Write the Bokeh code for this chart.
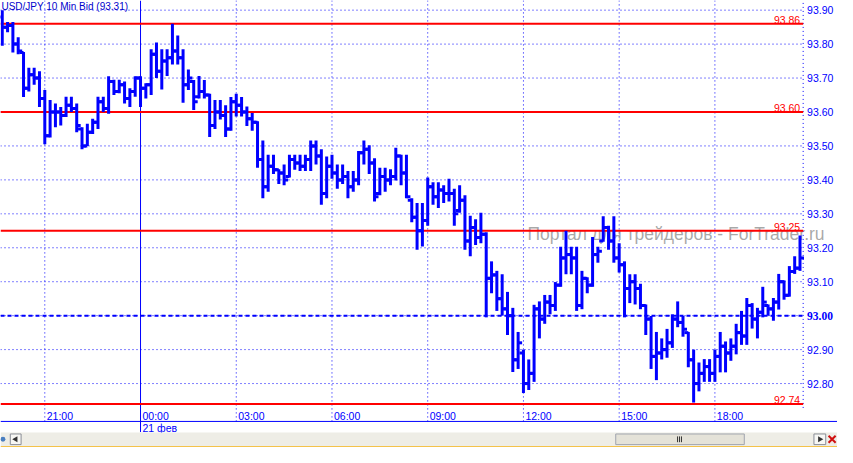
import numpy as np
import pandas as pd
from bokeh.plotting import figure
from bokeh.models import Range1d, ColumnDataSource
from bokeh.core.properties import value
from bokeh.embed import file_html
from bokeh.resources import INLINE

# ---------------- data ----------------
title_text = "USD/JPY 10 Min Bid (93.31)"
first_bar = "2009-02-20 19:40"
bar_minutes = 10
day_label = "21 фев"
watermark = "Портал для трейдеров - ForTrader.ru"

open_ = [93.88, 93.85, 93.855, 93.80, 93.775, 93.67, 93.71, 93.70, 93.64, 93.53,
         93.60, 93.60, 93.59, 93.62, 93.61, 93.55, 93.50, 93.54, 93.57, 93.63,
         93.61, 93.69, 93.66, 93.68, 93.64, 93.66, 93.70, 93.67, 93.68, 93.77,
         93.72, 93.75, 93.76, 93.78, 93.76, 93.68, 93.69, 93.645, 93.66, 93.65,
         93.56, 93.60, 93.59, 93.55, 93.63, 93.62, 93.60, 93.58, 93.57, 93.46,
         93.38, 93.44, 93.43, 93.42, 93.41, 93.46, 93.45, 93.44, 93.46, 93.50,
         93.47, 93.36, 93.44, 93.42, 93.40, 93.41, 93.38, 93.40, 93.48, 93.49,
         93.45, 93.36, 93.41, 93.40, 93.41, 93.47, 93.42, 93.34, 93.29, 93.25,
         93.28, 93.38, 93.35, 93.37, 93.36, 93.36, 93.31, 93.34, 93.22, 93.26,
         93.23, 93.24, 93.11, 93.12, 93.05, 93.02, 93.00, 92.87, 92.89, 92.80,
         92.83, 93.02, 92.99, 93.04, 93.03, 93.09, 93.17, 93.18, 93.17, 93.03,
         93.11, 93.09, 93.18, 93.22, 93.26, 93.22, 93.17, 93.15, 93.08, 93.10,
         93.08, 93.03, 92.99, 92.88, 92.89, 92.90, 92.92, 92.99, 92.98, 92.95,
         92.87, 92.80, 92.83, 92.85, 92.83, 92.88, 92.91, 92.89, 92.91, 92.95,
         92.94, 93.03, 92.99, 93.01, 93.03, 93.02, 93.04, 93.10, 93.06, 93.13,
         93.14]
high = [93.90, 93.865, 93.865, 93.82, 93.777, 93.73, 93.73, 93.72, 93.665, 93.635,
        93.625, 93.615, 93.645, 93.645, 93.625, 93.555, 93.565, 93.58, 93.645, 93.645,
        93.705, 93.695, 93.695, 93.69, 93.67, 93.705, 93.705, 93.685, 93.785, 93.805,
        93.785, 93.785, 93.86, 93.825, 93.785, 93.725, 93.694, 93.706, 93.694, 93.654,
        93.635, 93.635, 93.62, 93.644, 93.654, 93.644, 93.616, 93.597, 93.573, 93.516,
        93.474, 93.474, 93.431, 93.445, 93.474, 93.474, 93.474, 93.474, 93.516, 93.516,
        93.49, 93.469, 93.474, 93.445, 93.445, 93.426, 93.426, 93.485, 93.516, 93.502,
        93.464, 93.436, 93.436, 93.431, 93.495, 93.474, 93.474, 93.346, 93.332, 93.332,
        93.407, 93.393, 93.393, 93.384, 93.403, 93.374, 93.384, 93.355, 93.294, 93.284,
        93.303, 93.246, 93.16, 93.132, 93.122, 93.07, 93.023, 92.952, 92.90, 92.871,
        93.032, 93.042, 93.061, 93.061, 93.099, 93.203, 93.25, 93.203, 93.203, 93.132,
        93.113, 93.232, 93.203, 93.293, 93.265, 93.293, 93.213, 93.16, 93.122, 93.122,
        93.094, 93.033, 92.999, 92.952, 92.933, 92.961, 93.004, 93.042, 92.999, 92.952,
        92.90, 92.862, 92.872, 92.872, 92.90, 92.952, 92.924, 92.933, 92.976, 93.014,
        93.052, 93.037, 93.023, 93.085, 93.033, 93.052, 93.123, 93.104, 93.146, 93.175,
        93.236]
low = [93.795, 93.835, 93.775, 93.77, 93.644, 93.66, 93.68, 93.615, 93.505, 93.525,
       93.555, 93.56, 93.585, 93.60, 93.54, 93.49, 93.50, 93.535, 93.55, 93.60,
       93.595, 93.65, 93.655, 93.625, 93.615, 93.645, 93.615, 93.64, 93.65, 93.70,
       93.666, 93.706, 93.74, 93.74, 93.627, 93.665, 93.606, 93.64, 93.64, 93.526,
       93.55, 93.578, 93.526, 93.545, 93.587, 93.587, 93.559, 93.545, 93.436, 93.346,
       93.365, 93.417, 93.388, 93.384, 93.407, 93.43, 93.426, 93.426, 93.426, 93.445,
       93.327, 93.346, 93.403, 93.374, 93.388, 93.346, 93.365, 93.384, 93.445, 93.417,
       93.336, 93.355, 93.365, 93.384, 93.398, 93.384, 93.346, 93.275, 93.194, 93.204,
       93.265, 93.327, 93.317, 93.332, 93.336, 93.265, 93.303, 93.194, 93.175, 93.208,
       93.213, 92.995, 93.066, 93.014, 93.0, 92.943, 92.834, 92.843, 92.772, 92.781,
       92.805, 92.933, 92.976, 93.004, 93.014, 93.085, 93.122, 93.122, 93.014, 93.019,
       93.066, 93.085, 93.156, 93.218, 93.194, 93.156, 93.127, 92.995, 93.037, 93.033,
       93.019, 92.943, 92.843, 92.81, 92.871, 92.876, 92.905, 92.966, 92.938, 92.848,
       92.744, 92.777, 92.805, 92.805, 92.805, 92.833, 92.833, 92.867, 92.886, 92.914,
       92.914, 92.962, 92.933, 92.995, 93.0, 92.985, 93.018, 93.047, 93.056, 93.123,
       93.132]
close = [93.85, 93.855, 93.80, 93.78, 93.67, 93.71, 93.70, 93.64, 93.53, 93.60,
         93.60, 93.59, 93.62, 93.61, 93.56, 93.50, 93.54, 93.57, 93.63, 93.61,
         93.69, 93.66, 93.68, 93.64, 93.66, 93.70, 93.67, 93.68, 93.77, 93.72,
         93.75, 93.76, 93.78, 93.76, 93.68, 93.70, 93.63, 93.66, 93.65, 93.56,
         93.60, 93.59, 93.55, 93.63, 93.62, 93.60, 93.58, 93.57, 93.46, 93.38,
         93.44, 93.43, 93.42, 93.40, 93.46, 93.45, 93.44, 93.46, 93.50, 93.47,
         93.36, 93.44, 93.42, 93.40, 93.41, 93.38, 93.40, 93.48, 93.49, 93.45,
         93.35, 93.41, 93.40, 93.41, 93.47, 93.42, 93.35, 93.29, 93.25, 93.28,
         93.38, 93.35, 93.37, 93.36, 93.36, 93.30, 93.34, 93.22, 93.26, 93.23,
         93.24, 93.11, 93.12, 93.05, 93.02, 93.00, 92.87, 92.92, 92.80, 92.83,
         93.02, 92.99, 93.04, 93.03, 93.09, 93.17, 93.18, 93.17, 93.03, 93.11,
         93.09, 93.18, 93.19, 93.26, 93.22, 93.17, 93.15, 93.08, 93.10, 93.08,
         93.03, 92.99, 92.88, 92.89, 92.90, 92.92, 92.99, 92.98, 92.96, 92.87,
         92.80, 92.83, 92.85, 92.83, 92.88, 92.91, 92.89, 92.91, 92.95, 92.94,
         93.03, 92.99, 93.01, 93.04, 93.02, 93.04, 93.10, 93.06, 93.13, 93.14,
         93.17]

price_ticks = [93.90, 93.80, 93.70, 93.60, 93.50, 93.40, 93.30, 93.20, 93.10,
               93.00, 92.90, 92.80]
red_levels = [93.86, 93.60, 93.25, 92.74]
dashed_level = 93.00

# ---------------- geometry (reference-pixel helpers) ----------------
times = pd.date_range(first_bar, periods=len(close), freq=f"{bar_minutes}min")
idx = np.arange(len(close))
mid_i = int(np.where((times.hour == 0) & (times.minute == 0))[0][0])
MID_PX, BAR_PX = 142.7, 5.42        # screen x of midnight bar, px per bar
PRICE_TOP, TOP_PX, PX_PER_UNIT = 93.90, 10.0, 351.6


def fx(px):
    return mid_i + (px - MID_PX) / BAR_PX


def fy(py):
    return PRICE_TOP - (py - TOP_PX) / PX_PER_UNIT


tick_mask = (times.minute == 0) & (times.hour % 3 == 0)
tick_i = idx[tick_mask]
tick_lab = [t.strftime("%H:%M") for t in times[tick_mask]]
grid_i = [i for i in tick_i if i != mid_i]

BLUE = "#0000FF"
RED = "#FF0000"
FONT = value("Liberation Sans")

p = figure(width=837, height=447, x_range=Range1d(fx(0), fx(853)),
           y_range=Range1d(fy(463), fy(0)), output_backend="svg",
           toolbar_location=None, x_axis_location=None, y_axis_location=None,
           min_border=0, outline_line_color=None, background_fill_color="white")
p.grid.visible = False

# dotted price grid
p.segment(x0=fx(0), x1=fx(818), y0=price_ticks, y1=price_ticks,
          line_color=BLUE, line_width=1, line_dash="1 3")
# dotted time grid
p.segment(x0=grid_i, x1=grid_i, y0=fy(436), y1=fy(0),
          line_color=BLUE, line_width=1, line_dash="1 3")
# right axis dotted line
p.segment(x0=fx(818), x1=fx(818), y0=fy(422), y1=fy(0),
          line_color=BLUE, line_width=1, line_dash="1 3")
# day separator
p.segment(x0=mid_i, x1=mid_i, y0=fy(447), y1=fy(0), line_color=BLUE, line_width=1)
# bottom separator line
p.segment(x0=fx(0), x1=fx(853), y0=fy(436), y1=fy(436), line_color=BLUE, line_width=1)

# watermark
p.text(x=fx(537), y=fy(242), text=[watermark], text_font=FONT,
       text_font_size="17.5px", text_color="#8c8c8c", text_alpha=0.75,
       text_baseline="middle", text_align="left")

# level lines
p.segment(x0=fx(0), x1=fx(818), y0=red_levels, y1=red_levels,
          line_color=RED, line_width=2)
p.segment(x0=fx(0), x1=fx(818), y0=dashed_level, y1=dashed_level,
          line_color=BLUE, line_width=2, line_dash="4 3")

# OHLC bars
src = ColumnDataSource(dict(i=idx, il=idx - 0.75, ir=idx + 0.75,
                            o=open_, h=high, l=low, c=close))
p.segment(x0="i", x1="i", y0="l", y1="h", source=src, line_color=BLUE,
          line_width=3, line_cap="butt")
p.segment(x0="il", x1="i", y0="o", y1="o", source=src, line_color=BLUE,
          line_width=3, line_cap="butt")
p.segment(x0="i", x1="ir", y0="c", y1="c", source=src, line_color=BLUE,
          line_width=3, line_cap="butt")

# red level labels
p.text(x=fx(815), y=red_levels, text=[f"{v:.2f}" for v in red_levels],
       text_font=FONT, text_font_size="10.5px", text_color=RED,
       text_align="right", text_baseline="bottom", y_offset=0)

# right axis labels
reg = [v for v in price_ticks if abs(v - dashed_level) > 1e-9]
p.text(x=fx(822), y=reg, text=[f"{v:.2f}" for v in reg], text_font=FONT,
       text_font_size="10.5px", text_color=BLUE, text_align="left",
       text_baseline="middle")
p.text(x=fx(822), y=[dashed_level], text=[f"{dashed_level:.2f}"],
       text_font=value("Liberation Serif"), text_font_style="bold",
       text_font_size="11.5px", text_color=BLUE, text_align="left",
       text_baseline="middle")

# time labels
p.text(x=tick_i + 2 / BAR_PX, y=fy(430), text=tick_lab, text_font=FONT,
       text_font_size="10.5px", text_color=BLUE, text_align="left",
       text_baseline="middle")
p.text(x=[mid_i + 2 / BAR_PX], y=fy(443), text=[day_label], text_font=FONT,
       text_font_size="10.5px", text_color=BLUE, text_align="left",
       text_baseline="middle")

# title
p.text(x=fx(1), y=fy(6), text=[title_text], text_font=FONT,
       text_font_size="10px", text_color="#0000CC", text_align="left",
       text_baseline="middle")

# scrollbar strip (window chrome)
p.quad(left=fx(0), right=fx(853), top=fy(447.5), bottom=fy(461.5),
       fill_color="#EEEDE6", line_color=None)
p.quad(left=fx(0), right=fx(853), top=fy(461.5), bottom=fy(463),
       fill_color="#F4C24A", line_color=None)
p.quad(left=fx(627), right=fx(758), top=fy(449), bottom=fy(460),
       fill_color="#E4E2D8", line_color="#A0A4AE", line_width=1)
p.segment(x0=[fx(690), fx(692), fx(694)], x1=[fx(690), fx(692), fx(694)],
          y0=fy(451.5), y1=fy(457.5), line_color="#333333", line_width=1)
p.quad(left=[fx(10), fx(829)], right=[fx(21), fx(841)], top=fy(449),
       bottom=fy(460), fill_color="#F7F7F4", line_color="#8A8E98", line_width=1)
p.triangle(x=[fx(15.5)], y=[fy(454.5)], size=6, angle=np.pi / 2,
           fill_color="#333333", line_color=None)
p.triangle(x=[fx(835)], y=[fy(454.5)], size=6, angle=-np.pi / 2,
           fill_color="#333333", line_color=None)
p.x(x=[fx(847.5)], y=[fy(454.5)], size=10, line_color="#D01010", line_width=2)
p.circle(x=[fx(2.5)], y=[fy(454.5)], radius=2.5 / BAR_PX, fill_color="#4A7FC0",
         line_color=None)

open("out.html", "w").write(file_html(p, INLINE))
